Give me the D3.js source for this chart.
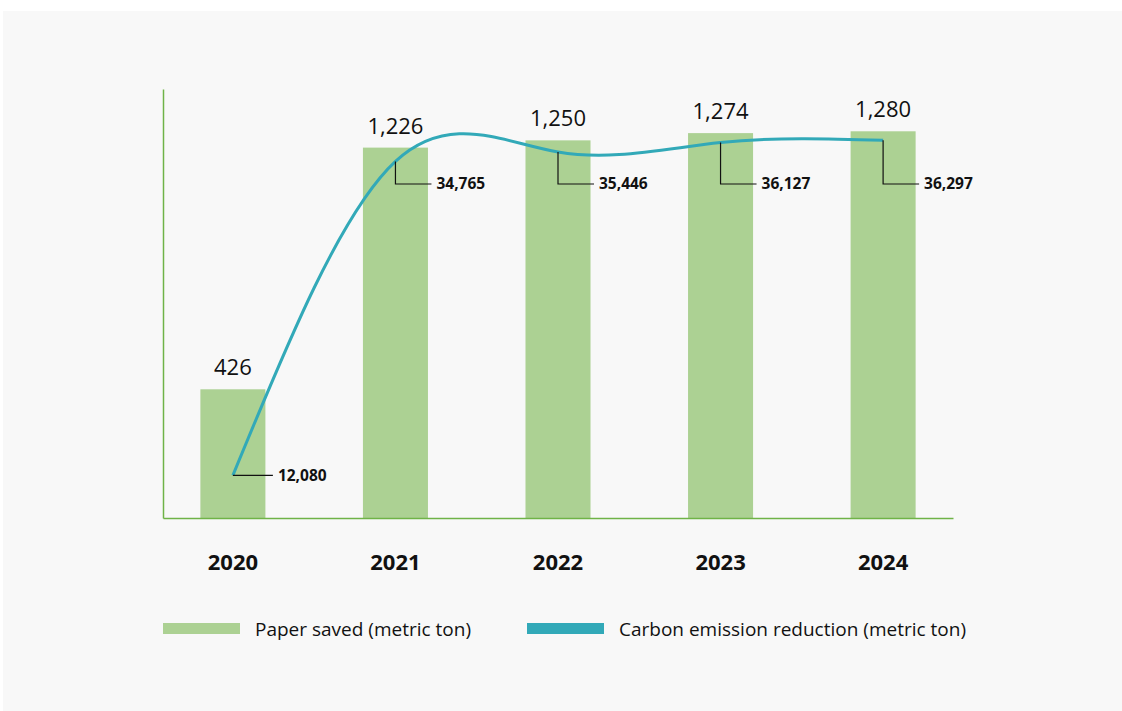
<!DOCTYPE html>
<html>
<head>
<meta charset="utf-8">
<script src="https://cdn.jsdelivr.net/npm/d3@7"></script>
<style>
  body { margin: 0; background: #ffffff; }
  svg { display: block; font-family: "Open Sans", "Noto Sans", sans-serif; }
</style>
</head>
<body>
<svg id="chart" width="1122" height="711"></svg>
<script>
// ===== data =====
const years = ["2020", "2021", "2022", "2023", "2024"];
const paperSaved = [426, 1226, 1250, 1274, 1280];
const carbonReduction = [12080, 34765, 35446, 36127, 36297];
const legendLabels = ["Paper saved (metric ton)", "Carbon emission reduction (metric ton)"];

const fmt = d3.format(",");
const green = "#acd193";
const teal = "#32a9b8";
const axisGreen = "#6fb347";

const svg = d3.select("#chart");

// background panel
svg.append("rect")
  .attr("x", 3).attr("y", 11)
  .attr("width", 1119).attr("height", 700)
  .attr("fill", "#f8f8f8");

const plot = { left: 163, right: 953, top: 89, bottom: 518 };

const xScale = d3.scaleBand()
  .domain(years)
  .range([plot.left, plot.right])
  .paddingInner(0.6)
  .paddingOuter(0.23);

const yScale = d3.scaleLinear().domain([0, 1420]).range([plot.bottom, plot.top]);
const yLine = d3.scaleLinear().domain([9000, 40000]).range([plot.bottom, plot.top]);

const barData = years.map((y, i) => ({ year: y, value: paperSaved[i] }));
const lineData = years.map((y, i) => ({ year: y, value: carbonReduction[i] }));

//===== bars =====
const g = svg.append("g");
g.selectAll("rect.bar")
  .data(barData)
  .enter()
  .append("rect")
  .attr("class", "bar")
  .attr("x", (d) => xScale(d.year))
  .attr("y", (d) => yScale(d.value))
  .attr("width", xScale.bandwidth())
  .attr("height", (d) => yScale(0) - yScale(d.value))
  .attr("fill", green);

g.selectAll("text.barLabel")
  .data(barData)
  .enter()
  .append("text")
  .attr("class", "barLabel")
  .attr("x", (d) => xScale(d.year) + xScale.bandwidth() / 2)
  .attr("y", (d) => yScale(d.value) - 14)
  .attr("text-anchor", "middle")
  .style("font-size", "22px")
  .style("fill", "#111")
  .text((d) => fmt(d.value));

//===== axes =====
const xAxis = d3.axisBottom(xScale).tickSize(0).tickPadding(36);
const yAxis = d3.axisLeft(yScale).tickValues([]).tickSize(0);

const xAxisG = svg.append("g")
  .attr("transform", `translate(0,${plot.bottom})`)
  .call(xAxis);
xAxisG.select(".domain").attr("stroke", axisGreen).attr("stroke-width", 1.5);
xAxisG.selectAll("text")
  .style("font-size", "22px")
  .style("font-weight", "bold")
  .style("font-family", "'Open Sans', sans-serif")
  .attr("fill", "#111");

const yAxisG = svg.append("g")
  .attr("transform", `translate(${plot.left},0)`)
  .call(yAxis);
yAxisG.select(".domain").attr("stroke", axisGreen).attr("stroke-width", 1.5);

//===== line =====
const cx = (d) => xScale(d.year) + xScale.bandwidth() / 2;
const line = d3.line()
  .x(cx)
  .y((d) => yLine(d.value))
  .curve(d3.curveNatural);

svg.append("path")
  .datum(lineData)
  .attr("d", line)
  .attr("fill", "none")
  .attr("stroke", teal)
  .attr("stroke-width", 3);

//===== callouts =====
const calloutY = 184;
const callouts = svg.append("g");
lineData.forEach((d, i) => {
  const x0 = cx(d);
  const y0 = yLine(d.value);
  let yh, len;
  if (i === 0) {
    yh = y0;
    len = 40;
  } else {
    yh = calloutY;
    len = 36;
  }
  callouts.append("path")
    .attr("d", `M${x0},${y0}V${yh}H${x0 + len}`)
    .attr("fill", "none")
    .attr("stroke", "#111")
    .attr("stroke-width", 1.2);
  callouts.append("text")
    .attr("x", x0 + len + 5)
    .attr("y", yh)
    .attr("dy", "0.35em")
    .style("font-size", "15.5px")
    .style("font-weight", "bold")
    .style("fill", "#111")
    .text(fmt(d.value));
});

//===== legend =====
const legendItems = [
  { label: legendLabels[0], color: green, x: 163 },
  { label: legendLabels[1], color: teal, x: 527 },
];
const legend = svg.append("g").attr("transform", "translate(0,623)");
legend.selectAll("rect")
  .data(legendItems)
  .enter()
  .append("rect")
  .attr("x", (d) => d.x)
  .attr("y", 0)
  .attr("width", 77)
  .attr("height", 11)
  .attr("fill", (d) => d.color);
legend.selectAll("text")
  .data(legendItems)
  .enter()
  .append("text")
  .attr("x", (d) => d.x + 92)
  .attr("y", 6)
  .attr("dy", "0.35em")
  .style("font-size", "19px")
  .style("fill", "#111")
  .text((d) => d.label);
</script>
</body>
</html>
